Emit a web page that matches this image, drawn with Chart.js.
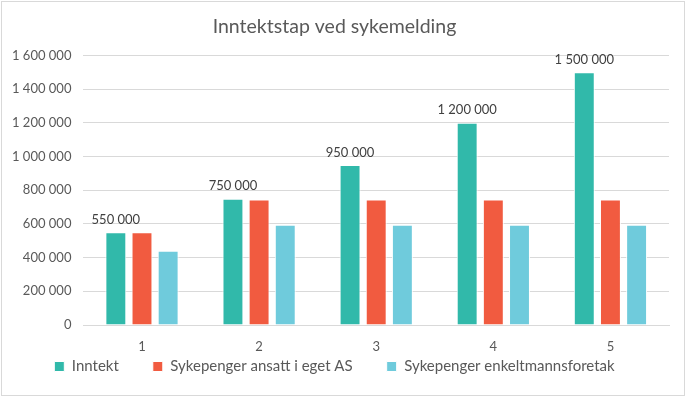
<!DOCTYPE html>
<html>
<head>
<meta charset="utf-8">
<script src="https://cdn.jsdelivr.net/npm/chart.js@4/dist/chart.umd.min.js"></script>
<style>
  html, body { margin: 0; padding: 0; background: #fff; }
  #wrap { position: absolute; left: 1px; top: 1px; width: 682px; height: 393px; border: 1px solid #d9d9d9; }
  canvas { display: block; }
</style>
</head>
<body>
<div id="wrap"><canvas id="c" width="682" height="393"></canvas></div>
<script>
const labels = ['1', '2', '3', '4', '5']
const inntekt = [550000, 750000, 950000, 1200000, 1500000]
const sykAS = [550000, 744168, 744168, 744168, 744168]
const sykENK = [440000, 595334, 595334, 595334, 595334]

const fmt = n => String(n).replace(/\B(?=(\d{3})+(?!\d))/g, '\u00a0')
const FONT = 'Lato, "Open Sans", sans-serif'

// labels over the first series
const barLabels = {
  id: 'barLabels',
  afterDatasetsDraw(chart) {
    const ctx = chart.ctx
    const meta = chart.getDatasetMeta(0)
    ctx.save()
    ctx.font = '13px ' + FONT
    ctx.fillStyle = '#404040'
    ctx.textAlign = 'center'
    ctx.textBaseline = 'bottom'
    meta.data.forEach((bar, i) => {
      ctx.fillText(fmt(chart.data.datasets[0].data[i]), bar.x, bar.y - 6)
    })
    ctx.restore()
  }
}

new Chart(document.getElementById('c'), {
  type: 'bar',
  data: {
    labels,
    datasets: [
      { label: 'Inntekt', data: inntekt, backgroundColor: '#31b9aa' },
      { label: 'Sykepenger ansatt i eget AS', data: sykAS, backgroundColor: '#f15b40' },
      { label: 'Sykepenger enkeltmannsforetak', data: sykENK, backgroundColor: '#6fcbdc' }
    ]
  },
  options: {
    responsive: false,
    animation: false,
    layout: { padding: { left: -2, right: 15, top: 6, bottom: 11 } },
    datasets: { bar: { borderColor: '#ffffff', borderWidth: 1, categoryPercentage: 0.67, barPercentage: 0.8 } },
    plugins: {
      title: { display: true, text: 'Inntektstap ved sykemelding', color: '#595959', font: { family: FONT, size: 19.5, weight: 'normal' }, padding: { top: 7, bottom: 17 } },
      legend: {
        position: 'bottom',
        labels: {
          color: '#595959', font: { family: FONT, size: 15 }, boxWidth: 10, boxHeight: 10, padding: 4,
          // wider spacing between items than between rows
          generateLabels(chart) {
            const items = Chart.defaults.plugins.legend.labels.generateLabels(chart)
            items.forEach((it, i) => { if (i < items.length - 1) it.text += '\u2002\u2002\u2002\u2002' })
            return items
          }
        }
      },
      tooltip: { enabled: false }
    },
    scales: {
      x: {
        grid: { display: false, drawTicks: false },
        border: { color: '#d9d9d9' },
        ticks: { color: '#595959', font: { family: FONT, size: 13 }, padding: 14 },
        afterFit: s => { s.height = 30 }
      },
      y: {
        min: 0, max: 1600000,
        grid: { color: '#d9d9d9', drawTicks: false },
        border: { display: false },
        ticks: { stepSize: 200000, color: '#595959', font: { family: FONT, size: 13 }, padding: 12, callback: v => fmt(v) }
      }
    }
  },
  plugins: [barLabels]
})
</script>
</body>
</html>
